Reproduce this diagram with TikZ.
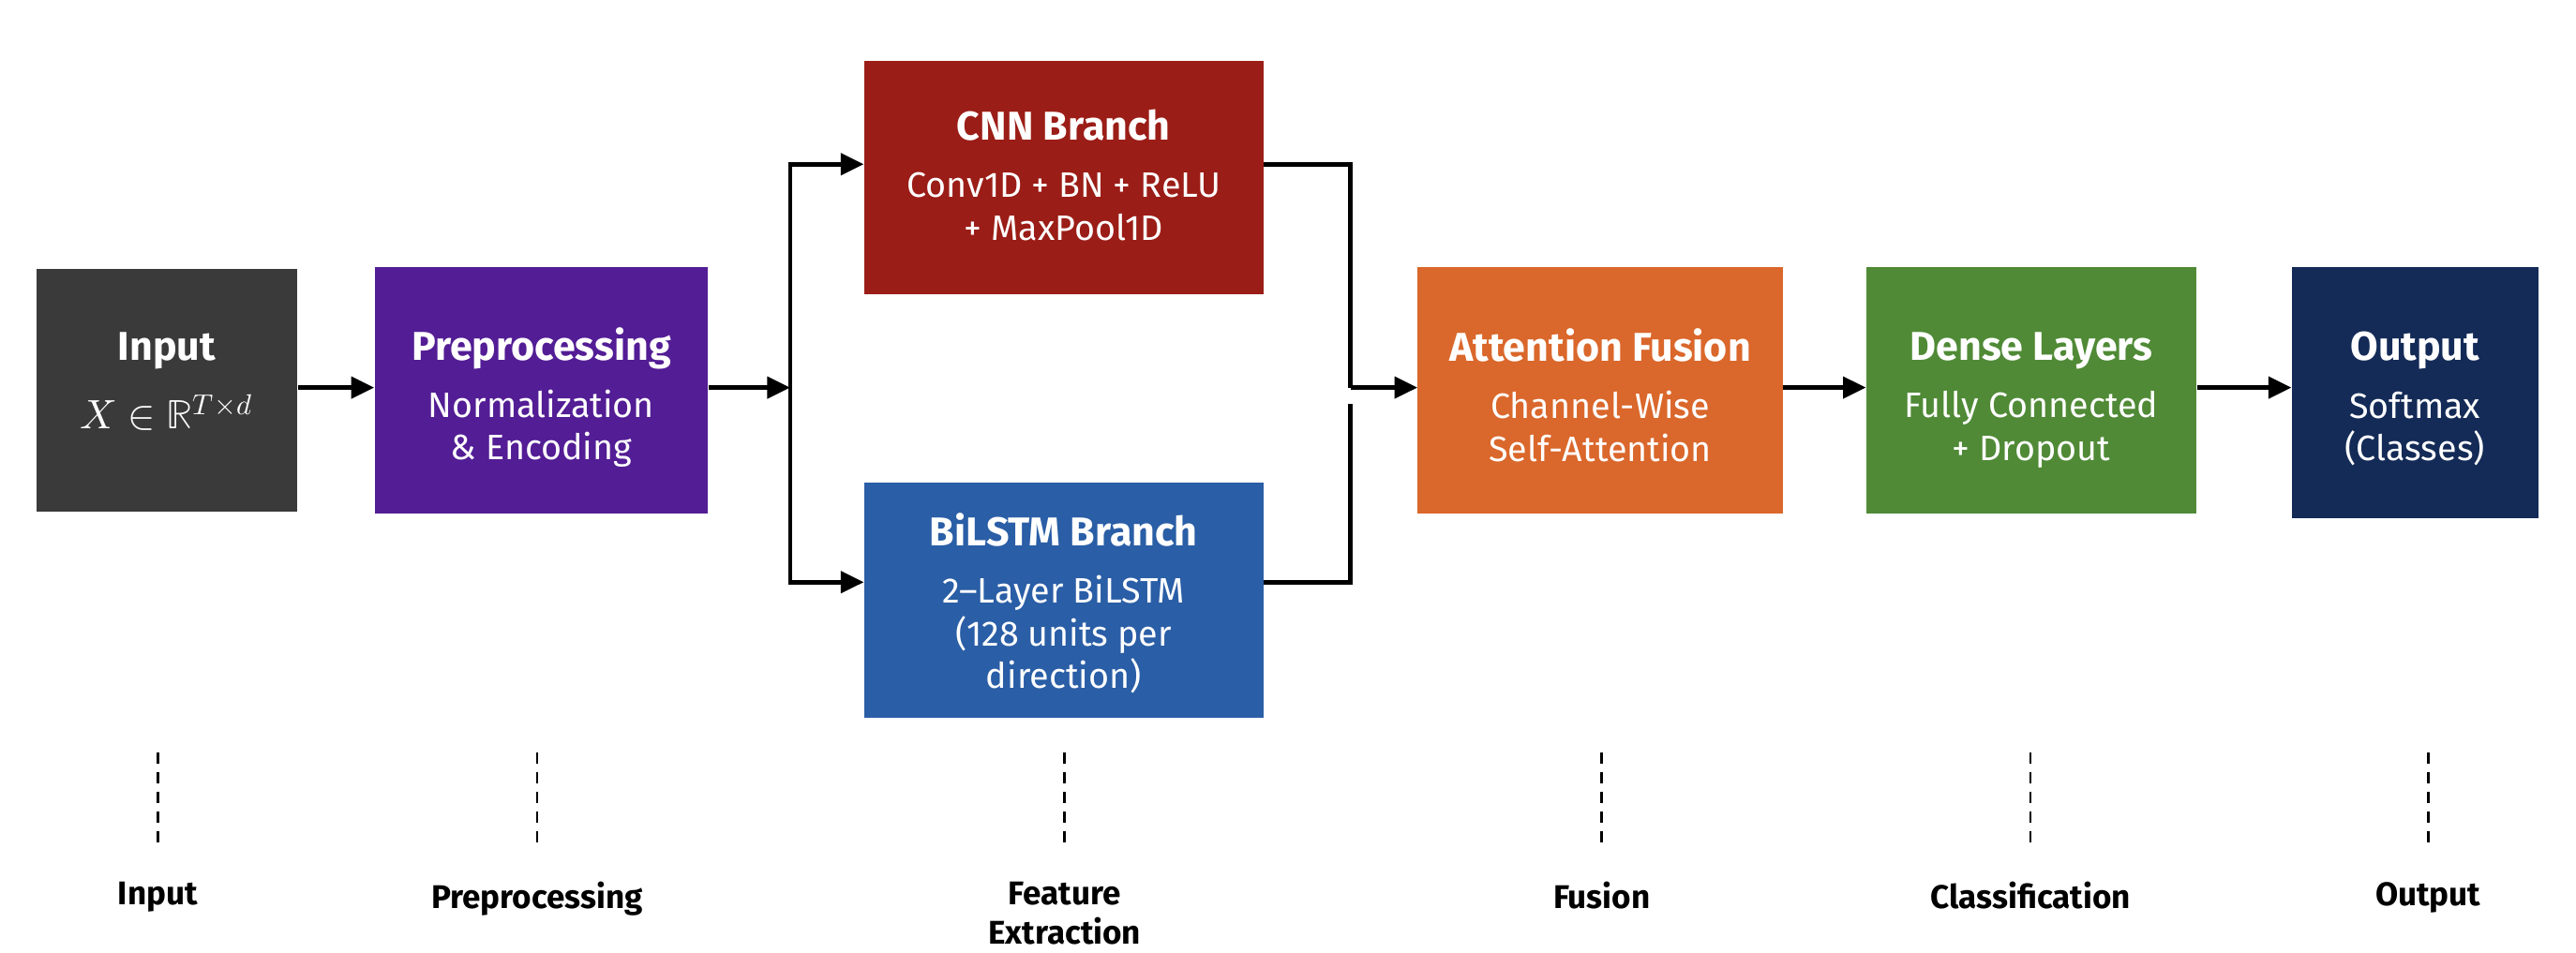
\documentclass[tikz,border=0pt]{standalone}
\usepackage{fontspec}
\usepackage{unicode-math}
\setsansfont{Fira Sans}
\setmathfont{Latin Modern Math}
\usetikzlibrary{arrows.meta}
\definecolor{cinput}{HTML}{3A3A3A}
\definecolor{cpre}{HTML}{531D95}
\definecolor{ccnn}{HTML}{9B1D17}
\definecolor{cbil}{HTML}{2A5EA6}
\definecolor{catt}{HTML}{DA672B}
\definecolor{cden}{HTML}{508A36}
\definecolor{cout}{HTML}{142B57}
\tikzset{
  blk/.style={rectangle, draw=none, inner sep=0pt},
  txt/.style={text=white, align=center, inner sep=0pt,
    font=\sffamily\fontsize{21.5}{26}\selectfont},
  conn/.style={line width=2.6pt, black},
  arr/.style={conn, -{Triangle[length=14pt,width=13pt]}},
  dsh/.style={line width=1.5pt, dash pattern=on 7pt off 5pt},
  stage/.style={anchor=north, inner sep=0pt, align=center,
    font=\sffamily\bfseries\fontsize{20}{24}\selectfont}
}
\newcommand{\bxtitle}[2][9pt]{{\fontsize{24.5}{26}\selectfont\bfseries #2}\\[#1]}
\begin{document}
\begin{tikzpicture}[x=1pt,y=-1pt]
\useasboundingbox (0,0) rectangle (1568,580);
\fill[white] (0,0) rectangle (1568,580);

\node[blk, fill=cinput, minimum width=159pt, minimum height=148pt] (in) at (101.5,237.5) {};
\node[blk, fill=cpre, minimum width=203pt, minimum height=150pt] (pre) at (329.5,237.5) {};
\node[blk, fill=ccnn, minimum width=243pt, minimum height=142pt] (cnn) at (647.5,108) {};
\node[blk, fill=cbil, minimum width=243pt, minimum height=143pt] (bil) at (647.5,365.5) {};
\node[blk, fill=catt, minimum width=222pt, minimum height=150pt] (att) at (974,237.5) {};
\node[blk, fill=cden, minimum width=201pt, minimum height=150pt] (den) at (1236.5,237.5) {};
\node[blk, fill=cout, minimum width=150pt, minimum height=153pt] (out) at (1470,239) {};

\node[txt] (int) at ([yshift=5pt]in.center)
  {\bxtitle[14pt]{Input}{\fontsize{25}{26}\selectfont$X \in \mathbb{R}^{T\times d}$}};
\node[txt] (pret) at ([yshift=-4.5pt]pre.center)
  {\bxtitle{Preprocessing}Normalization\\ \& Encoding};
\node[txt] (cnnt) at ([yshift=1.5pt]cnn.center)
  {\bxtitle{CNN Branch}Conv1D + BN + ReLU\\ + MaxPool1D};
\node[txt] (bilt) at ([yshift=-2pt]bil.center)
  {\bxtitle{BiLSTM Branch}2--Layer BiLSTM\\ (128 units per\\ direction)};
\node[txt] (attt) at ([yshift=-3pt]att.center)
  {\bxtitle{Attention Fusion}Channel-Wise\\ Self-Attention};
\node[txt] (dent) at ([yshift=-6pt]den.center)
  {\bxtitle{Dense Layers}Fully Connected\\ + Dropout};
\node[txt] (outt) at ([yshift=-4pt]out.center)
  {\bxtitle{Output}Softmax\\ (Classes)};

\coordinate (sp) at (481,236);
\coordinate (mg) at (822,236);
\coordinate (mg2) at (822,246);

\draw[arr] (in.east |- sp) -- (pre.west |- sp);
\draw[arr] (pre.east |- sp) -- (sp);
\draw[arr] (sp) |- ([yshift=8pt]cnn.west);
\draw[arr] (sp) |- ([yshift=11pt]bil.west);
\draw[conn] ([yshift=8pt]cnn.east) -| (mg);
\draw[conn] ([yshift=11pt]bil.east) -| (mg2);
\draw[arr] (mg) -- (att.west |- mg);
\draw[arr] (att.east |- mg) -- (den.west |- mg);
\draw[arr] (den.east |- mg) -- (out.west |- mg);

\node[stage] (s1) at (96,537) {Input};
\node[stage] (s2) at (327,537) {Preprocessing};
\node[stage] (s3) at (648,537) {Feature\\ Extraction};
\node[stage] (s4) at (975,537) {Fusion};
\node[stage] (s5) at (1236,537) {Classification};
\node[stage] (s6) at (1478,537) {Output};
\foreach \s in {s1,s2,s3,s4,s5,s6}{
  \draw[dsh] (\s.north |- 0,458) -- (\s.north |- 0,514);
}
\end{tikzpicture}
\end{document}
